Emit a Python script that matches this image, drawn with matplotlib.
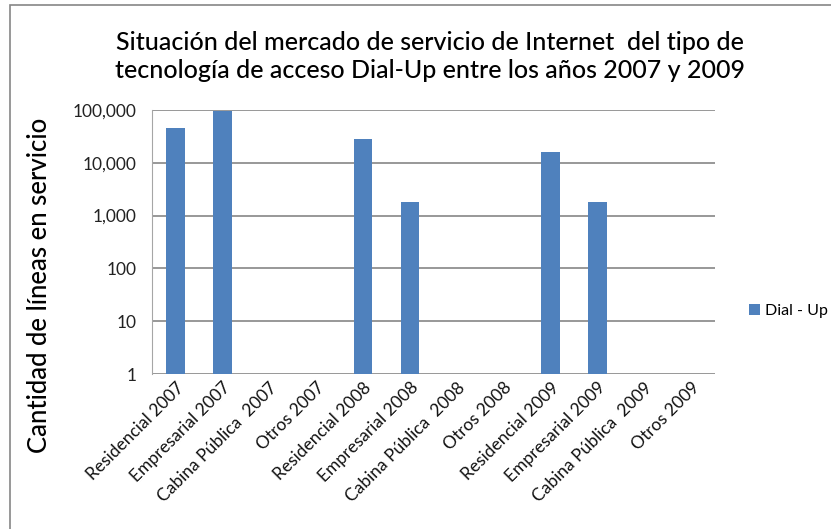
import matplotlib.pyplot as plt
import matplotlib.ticker as mticker
from matplotlib.patches import Rectangle

categories = ['Residencial 2007', 'Empresarial 2007', 'Cabina Pública  2007', 'Otros 2007',
              'Residencial 2008', 'Empresarial 2008', 'Cabina Pública  2008', 'Otros 2008',
              'Residencial 2009', 'Empresarial 2009', 'Cabina Pública  2009', 'Otros 2009']
dial_up = [46000, 96000, 0, 0, 28500, 1820, 0, 0, 16300, 1820, 0, 0]
y_ticks = [1, 10, 100, 1000, 10000, 100000]

plt.rcParams['font.family'] = ['Lato', 'DejaVu Sans']

fig = plt.figure(figsize=(8.31, 5.29), dpi=100)
ax = fig.add_axes([0.183, 0.293, 0.677, 0.499])

x = range(len(categories))
vals = [v if v > 0 else float('nan') for v in dial_up]
ax.bar(x, vals, width=0.39, color='#4f81bd', label='Dial - Up', zorder=3)

ax.set_yscale('log')
ax.set_ylim(1, 100000)
ax.set_xlim(-0.5, len(categories) - 0.5)
ax.set_yticks(y_ticks)
ax.yaxis.set_major_formatter(mticker.FuncFormatter(lambda v, p: '{:,.0f}'.format(v)))
ax.yaxis.set_minor_locator(mticker.NullLocator())
ax.grid(axis='y', color='#868686', linewidth=1.2)
ax.set_axisbelow(True)

for s in ['top', 'right', 'bottom']:
    ax.spines[s].set_visible(False)
ax.spines['left'].set_color('#a6a6a6')
ax.tick_params(axis='y', length=0, labelsize=12.5, pad=11, labelcolor='#222222')
ax.tick_params(axis='x', length=0, labelsize=12.5, pad=4, labelcolor='#111111')

ax.set_xticks(list(x))
ax.set_xticklabels(categories, rotation=45, ha='right', rotation_mode='anchor')

fig.text(40 / 831, 1 - 285 / 529, 'Cantidad de líneas en servicio', rotation=90,
         ha='center', va='center', fontsize=18.5, fontweight='medium')

fig.text(0.517, 0.893, 'Situación del mercado de servicio de Internet  del tipo de\n'
         'tecnología de acceso Dial-Up entre los años 2007 y 2009',
         ha='center', va='center', fontsize=18, linespacing=1.3, fontweight='medium')

ax.legend(loc='center left', bbox_to_anchor=(1.05, 0.24), frameon=False, fontsize=11.5,
          handlelength=0.7, handleheight=0.7, handletextpad=0.3, borderaxespad=0)

fig.add_artist(Rectangle((10 / 831, -0.1), 1.2, 1.1 - 5 / 529, transform=fig.transFigure,
                         fill=False, edgecolor='#868686', linewidth=1.2))

fig.savefig('out.png', dpi=100)
